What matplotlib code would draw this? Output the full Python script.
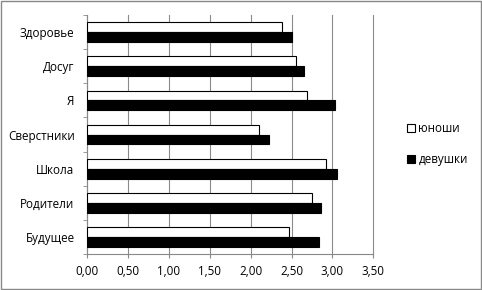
import numpy as np
from matplotlib import pyplot as plt
from matplotlib.ticker import FixedLocator

plt.rcParams['font.family'] = ['Open Sans', 'DejaVu Sans']

categories = ["Здоровье", "Досуг", "Я", "Сверстники", "Школа", "Родители", "Будущее"]
boys = [2.38, 2.56, 2.69, 2.10, 2.92, 2.75, 2.47]
girls = [2.50, 2.65, 3.03, 2.22, 3.06, 2.86, 2.84]
xticks = [0.0, 0.5, 1.0, 1.5, 2.0, 2.5, 3.0, 3.5]

fig = plt.figure(figsize=(4.82, 2.9), dpi=100)
ax = fig.add_axes([0.1805, 0.124, 0.594, 0.824])

y = np.arange(len(categories))
h = 0.29
ax.barh(y - h/2, boys, height=h, color='white', edgecolor='black', linewidth=0.8, label='юноши', zorder=3)
ax.barh(y + h/2, girls, height=h, color='black', edgecolor='black', linewidth=0.8, label='девушки', zorder=3)

ax.set_xlim(0, 3.5)
ax.set_ylim(len(categories) - 0.5, -0.5)
ax.set_xticks(xticks)
ax.set_xticklabels([f"{v:.2f}".replace('.', ',') for v in xticks], fontsize=8.4)
ax.set_yticks(y)
ax.set_yticklabels(categories, fontsize=8.4)
ax.tick_params(axis='y', which='major', length=0, pad=9)
ax.yaxis.set_minor_locator(FixedLocator(np.arange(-0.5, len(categories), 1.0)))
ax.tick_params(axis='y', which='minor', length=3, color='#888888')
ax.tick_params(axis='x', length=3, color='#888888', pad=5)
ax.grid(axis='x', color='#8a8a8a', linewidth=0.8, zorder=0)
for gl in ax.get_xgridlines():
    gl.set_clip_on(False)
for s in ['top', 'right']:
    ax.spines[s].set_visible(False)
for s in ['left', 'bottom']:
    ax.spines[s].set_color('#888888')

ax.legend(loc='center left', bbox_to_anchor=(1.08, 0.46), frameon=False, fontsize=8.4,
          handlelength=0.7, handleheight=0.7, labelspacing=1.5, handletextpad=0.3)

fig.patches.append(plt.Rectangle((0.002, 0.003), 0.996, 0.994, transform=fig.transFigure,
                                 fill=False, edgecolor='#888888', linewidth=1))

fig.savefig('out.png', dpi=100)
